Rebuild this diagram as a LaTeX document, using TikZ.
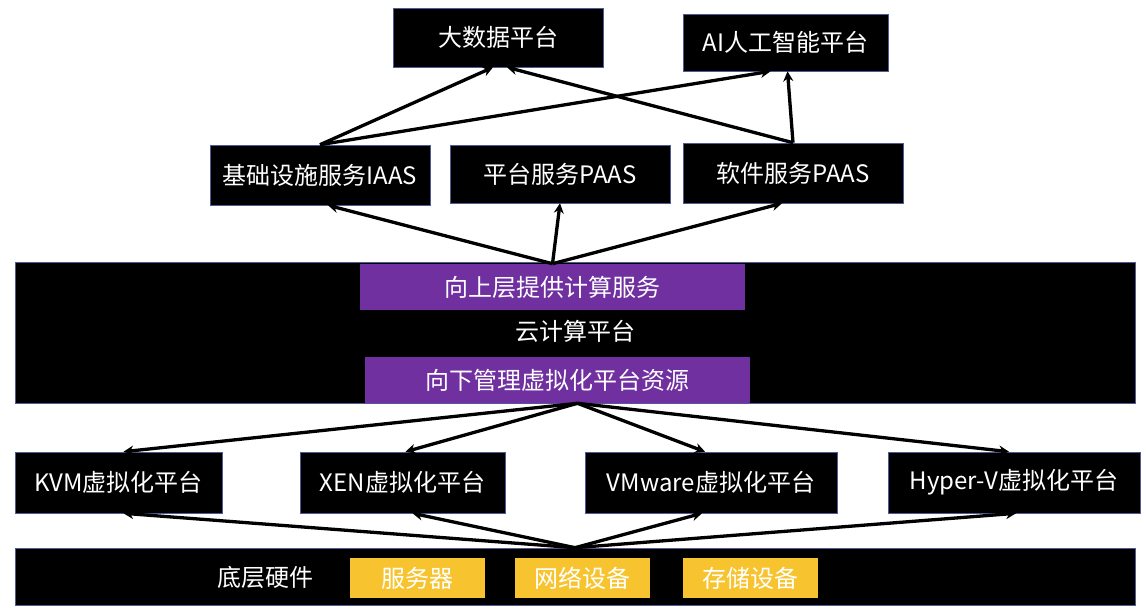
\documentclass[tikz,border=0pt]{standalone}
\usepackage{fontspec}
\setmainfont{Noto Sans CJK SC}
\usetikzlibrary{arrows.meta}
\definecolor{boxpurple}{RGB}{112,48,160}
\definecolor{boxyellow}{RGB}{247,196,48}
\definecolor{boxedge}{RGB}{80,90,150}

\begin{document}
\begin{tikzpicture}[x=1pt,y=-1pt]
  \tikzset{BoxStyle/.style={fill=black, draw=boxedge, line width=0.6pt, text=white, inner sep=0pt,
      font=\fontsize{24}{28}\selectfont}}
  \tikzset{PurpleStyle/.style={BoxStyle, fill=boxpurple, draw=none, minimum width=385, minimum height=46}}
  \tikzset{YellowStyle/.style={BoxStyle, fill=boxyellow, draw=none, minimum width=135, minimum height=40}}
  \tikzset{EdgeStyle/.style={line width=3.3pt, -{Stealth[length=10pt,width=10pt]}}}
  \useasboundingbox (0,0) rectangle (1146,611);

   \node[BoxStyle, minimum width=210, minimum height=59] (bigdata) at (498,37.5) {大数据平台};
   \node[BoxStyle, minimum width=205, minimum height=57] (ai) at (785.5,42.5) {AI人工智能平台};

   \node[BoxStyle, minimum width=220, minimum height=60] (iaas) at (320,175) {基础设施服务IAAS};
   \node[BoxStyle, minimum width=220, minimum height=58] (paas) at (560,174) {平台服务PAAS};
   \node[BoxStyle, minimum width=220, minimum height=60] (saas) at (793,173) {软件服务PAAS};

   \node[BoxStyle, minimum width=1120, minimum height=141] (cloud) at (575,332.5) {};
   \node[PurpleStyle] (up) at (552.5,287) {向上层提供计算服务};
   \node[BoxStyle, draw=none, fill=none] (cloudname) at (575,331) {云计算平台};
   \node[PurpleStyle] (down) at (557.5,380) {向下管理虚拟化平台资源};

   \node[BoxStyle, minimum width=207, minimum height=61] (kvm) at (118.5,482.5) {KVM虚拟化平台};
   \node[BoxStyle, minimum width=205, minimum height=61] (xen) at (402.5,482.5) {XEN虚拟化平台};
   \node[BoxStyle, minimum width=252, minimum height=61] (vmw) at (711,482.5) {VMware虚拟化平台};
   \node[BoxStyle, minimum width=252, minimum height=61] (hyv) at (1014,482.5) {Hyper-V虚拟化平台};

   \node[BoxStyle, minimum width=1120, minimum height=57] (hw) at (575,576.5) {};
   \node[BoxStyle, draw=none, fill=none] (hwname) at (265,577) {底层硬件};
   \node[YellowStyle] (srv) at (417.5,578) {服务器};
   \node[YellowStyle] (net) at (582.5,578) {网络设备};
   \node[YellowStyle] (sto) at (750.5,578) {存储设备};

   \draw[EdgeStyle] (iaas.north) -- ([xshift=-5]bigdata.south);
   \draw[EdgeStyle] (iaas.north) -- ([xshift=-15]ai.south);
   \draw[EdgeStyle] (saas.north) -- ([xshift=9]bigdata.south);
   \draw[EdgeStyle] (saas.north) -- ([xshift=2]ai.south);

   \draw[EdgeStyle] (up.north) -- ([xshift=8]iaas.south);
   \draw[EdgeStyle] (up.north) -- (paas.south);
   \draw[EdgeStyle] (up.north) -- ([xshift=-11]saas.south);

   \draw[EdgeStyle] ([xshift=20]down.south) -- ([xshift=5]kvm.north);
   \draw[EdgeStyle] ([xshift=20]down.south) -- ([xshift=3]xen.north);
   \draw[EdgeStyle] ([xshift=20]down.south) -- ([xshift=-6]vmw.north);
   \draw[EdgeStyle] ([xshift=20]down.south) -- ([xshift=-5]hyv.north);

   \draw[EdgeStyle] (hw.north) -- ([xshift=5]kvm.south);
   \draw[EdgeStyle] (hw.north) -- ([xshift=10]xen.south);
   \draw[EdgeStyle] (hw.north) -- ([xshift=-9]vmw.south);
   \draw[EdgeStyle] (hw.north) -- ([xshift=2]hyv.south);
\end{tikzpicture}
\end{document}
